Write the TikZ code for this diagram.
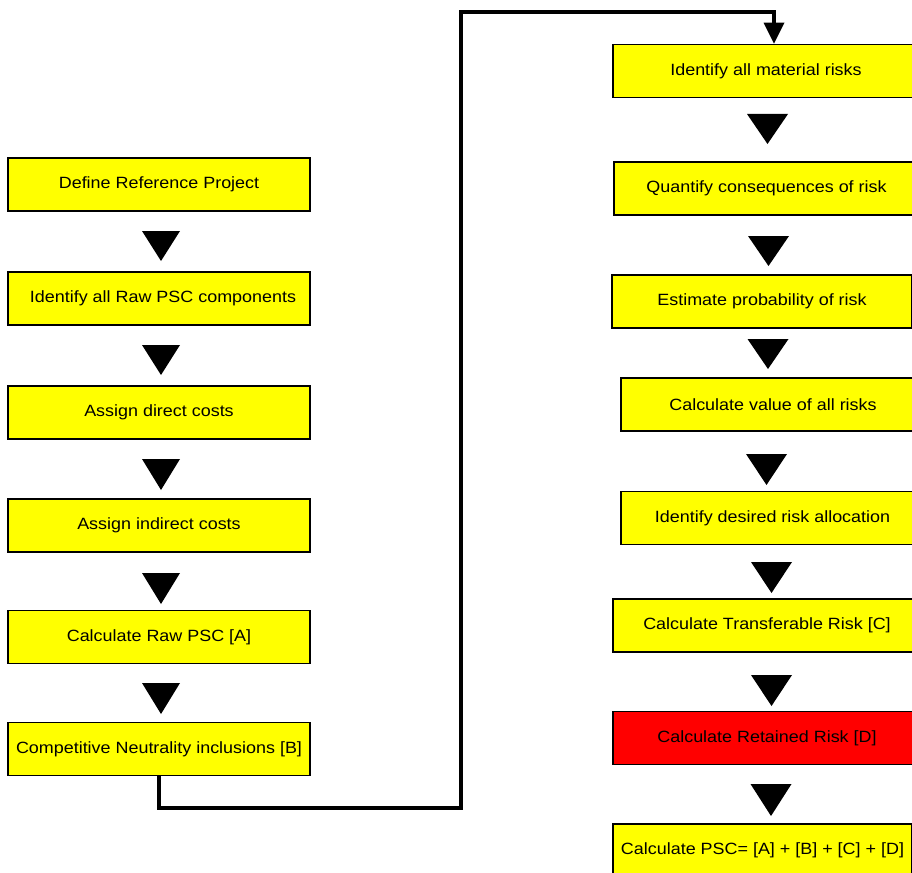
\documentclass[tikz,border=0pt]{standalone}
\usepackage{fontspec}
\setmainfont{Liberation Sans}[FakeStretch=1.1]
\usetikzlibrary{arrows.meta}
\definecolor{boxyellow}{HTML}{FFFF00}
\definecolor{boxred}{HTML}{FF0000}
\tikzset{
  stepbox/.style={draw=black, line width=1.6pt, fill=boxyellow, minimum height=53pt, inner sep=0pt,
    font=\fontsize{16.3}{18}\selectfont},
  leftbox/.style={stepbox, minimum width=302pt},
  conn/.style={draw=black, line width=3.4pt, line join=miter},
}
\newcommand\mytri[4]{\fill[black] (#1-#4/2,#2) -- (#1+#4/2,#2) -- (#1,#3) -- cycle;}
\begin{document}
\begin{tikzpicture}[x=1pt,y=-1pt]
\clip (0,0) rectangle (912,872);
\fill[white] (0,0) rectangle (912,872);
% left column
\node[leftbox] (L1) at (159,184.5) {Define Reference Project};
\node[leftbox] (L2) at (159,298.5) {\hspace{8pt}Identify all Raw PSC components};
\node[leftbox] (L3) at (159,412.5) {Assign direct costs};
\node[leftbox] (L4) at (159,525.5) {Assign indirect costs};
\node[leftbox] (L5) at (159,637) {Calculate Raw PSC [A]};
\node[leftbox] (L6) at (159,749) {Competitive Neutrality inclusions [B]};
\mytri{161}{231}{261}{38}
\mytri{161}{345}{375}{38}
\mytri{161}{459}{490}{38}
\mytri{161}{573}{604}{38}
\mytri{161}{683}{714}{38}
% right column
\node[stepbox, minimum width=306pt] (R1) at (766,71) {Identify all material risks};
\node[stepbox, minimum width=305pt] (R2) at (766.5,188.5) {Quantify consequences of risk};
\node[stepbox, minimum width=300pt] (R3) at (762,301.5) {Estimate probability of risk};
\node[stepbox, minimum width=304pt] (R4) at (773,404.5) {Calculate value of all risks};
\node[stepbox, minimum width=303pt] (R5) at (772.5,518) {Identify desired risk allocation};
\node[stepbox, minimum width=308pt] (R6) at (767,625.5) {Calculate Transferable Risk [C]};
\node[stepbox, fill=boxred, minimum width=308pt] (R7) at (767,738) {Calculate Retained Risk [D]};
\node[stepbox, minimum width=299pt] (R8) at (762.5,850.5) {Calculate PSC= [A] + [B] + [C] + [D]};
\mytri{767.5}{114}{144}{41}
\mytri{768.5}{236}{266}{41}
\mytri{768}{339}{369}{41}
\mytri{766.5}{454}{485}{41}
\mytri{771.5}{562}{593}{41}
\mytri{771.5}{675}{706}{41}
\mytri{771}{784}{816}{41}
% connector
\coordinate (c1) at (461,808);
\coordinate (c2) at (774,12);
\coordinate (tip) at (c2 |- R1.north);
\draw[conn, shorten >=20pt]
  (L6.south) |- (c1) -- (c1 |- c2) -- (c2) -- (tip);
\fill[black] ([xshift=-10.5pt,yshift=21pt]tip) -- ([xshift=10.5pt,yshift=21pt]tip) -- (tip) -- cycle;
\end{tikzpicture}
\end{document}
